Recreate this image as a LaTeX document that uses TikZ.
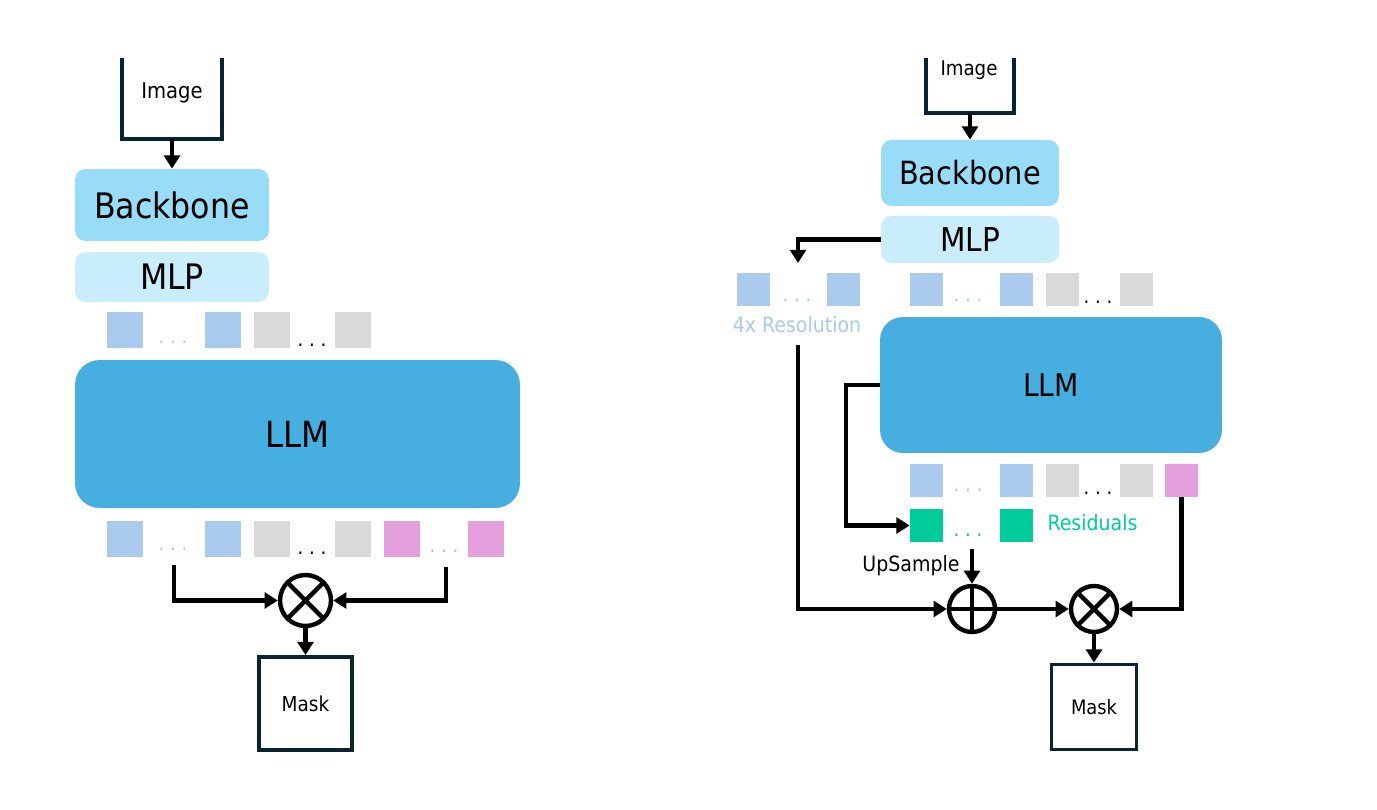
\documentclass[tikz,border=0pt]{standalone}
\usepackage{fontspec}
\setmainfont{DejaVu Sans Condensed}
\usetikzlibrary{arrows.meta}
\definecolor{bbfill}{HTML}{98DCF7}
\definecolor{mlpfill}{HTML}{CAEDFB}
\definecolor{llmfill}{HTML}{47AFDF}
\definecolor{tokblue}{HTML}{A9CAEC}
\definecolor{tokgray}{HTML}{D9D9D9}
\definecolor{tokpink}{HTML}{E3A0DC}
\definecolor{tokgreen}{HTML}{00CC99}
\definecolor{boxline}{HTML}{0A2330}
\tikzset{
  block/.style={inner sep=0pt, rounded corners=6pt},
  tok/.style={inner sep=0pt, minimum size=0.72cm},
  toks/.style={inner sep=0pt, minimum size=0.66cm},
  dotsl/.style={inner sep=0pt, anchor=base, font=\fontsize{11.5}{13}\selectfont},
  iobox/.style={draw=boxline, line width=2.2pt, inner sep=0pt},
  conn/.style={line width=2.5pt, -{Triangle[width=9pt,length=7.5pt]}},
  opnode/.style={draw, circle, line width=2.5pt, inner sep=0pt},
}
\begin{document}
\begin{tikzpicture}[x=0.02cm,y=-0.02cm]
 \useasboundingbox (0,0) rectangle (1377,810);
 % left: baseline
 \node[inner sep=0pt, minimum width=1.98cm, minimum height=1.62cm] (imgL) at (172,98.5) {};
 \draw[boxline, line width=2.2pt] (imgL.north west) -- (imgL.south west) -- (imgL.south east) -- (imgL.north east);
 \node[font=\fontsize{12.4}{14}\selectfont] (imgLtxt) at (172,93) {Image};
 \node[block, fill=bbfill, minimum width=3.88cm, minimum height=1.44cm, font=\fontsize{20}{24}\selectfont] (bbL) at (172,205) {Backbone};
 \node[block, fill=mlpfill, minimum width=3.88cm, minimum height=1.0cm, font=\fontsize{20}{24}\selectfont] (mlpL) at (172,277) {MLP};
 \node[tok, fill=tokblue] (tL1) at (125,330.5) {};
 \node[dotsl, text=tokblue] (dL1) at (173,344) {.\ .\ .};
 \node[tok, fill=tokblue] (tL2) at (223,330.5) {};
 \node[tok, fill=tokgray] (tL3) at (272,330.5) {};
 \node[dotsl] (dL2) at (312,347) {.\ .\ .};
 \node[tok, fill=tokgray] (tL4) at (353,330.5) {};
 \node[block, rounded corners=14pt, fill=llmfill, minimum width=8.9cm, minimum height=2.96cm, font=\fontsize{20.5}{24}\selectfont] (llmL) at (297.5,434) {LLM};
 \node[tok, fill=tokblue] (oL1) at (125,539) {};
 \node[dotsl, text=tokblue] (eL1) at (173,551) {.\ .\ .};
 \node[tok, fill=tokblue] (oL2) at (223,539) {};
 \node[tok, fill=tokgray] (oL3) at (272,539) {};
 \node[dotsl] (eL2) at (312,555) {.\ .\ .};
 \node[tok, fill=tokgray] (oL4) at (353,539) {};
 \node[tok, fill=tokpink] (oL5) at (402,539) {};
 \node[dotsl, text=tokpink] (eL3) at (444,553) {.\ .\ .};
 \node[tok, fill=tokpink] (oL6) at (486,539) {};
 \node[opnode, minimum size=1.02cm, path picture={
   \draw[line width=2.5pt] (path picture bounding box.north west) -- (path picture bounding box.south east)
     (path picture bounding box.north east) -- (path picture bounding box.south west);}] (otL) at (305.5,600.5) {};
 \node[iobox, minimum size=1.86cm, font=\fontsize{11.7}{14}\selectfont] (maskL) at (305.5,703.5) {Mask};
 \coordinate (cL1) at (174,565);
 \coordinate (cL2) at (446,567);
 \draw[conn] (imgL.south) -- (bbL.north);
 \draw[conn] (cL1) |- (otL.west);
 \draw[conn] (cL2) |- (otL.east);
 \draw[conn] (otL.south) -- (maskL.north);
 % right: with residuals
 \node[inner sep=0pt, minimum width=1.76cm, minimum height=1.1cm] (imgR) at (970,85.5) {};
 \draw[boxline, line width=2.2pt] (imgR.north west) -- (imgR.south west) -- (imgR.south east) -- (imgR.north east);
 \node[font=\fontsize{11.5}{14}\selectfont] (imgRtxt) at (969,70) {Image};
 \node[block, fill=bbfill, minimum width=3.56cm, minimum height=1.32cm, font=\fontsize{18.2}{22}\selectfont] (bbR) at (970,173) {Backbone};
 \node[block, fill=mlpfill, minimum width=3.56cm, minimum height=0.94cm, font=\fontsize{18.7}{22}\selectfont] (mlpR) at (970,239.5) {MLP};
 \node[toks, fill=tokblue] (hR1) at (753.5,289.5) {};
 \node[dotsl, text=tokblue] (hRd) at (797,302) {.\ .\ .};
 \node[toks, fill=tokblue] (hR2) at (843.5,289.5) {};
 \node[font=\fontsize{12}{14}\selectfont, text=tokblue] (res4x) at (797,325) {4x Resolution};
 \node[toks, fill=tokblue] (tR1) at (926.5,289.5) {};
 \node[dotsl, text=tokblue] (dR1) at (968,302) {.\ .\ .};
 \node[toks, fill=tokblue] (tR2) at (1016.5,289.5) {};
 \node[toks, fill=tokgray] (tR3) at (1062,289.5) {};
 \node[dotsl] (dR2) at (1098,304) {.\ .\ .};
 \node[toks, fill=tokgray] (tR4) at (1136.5,289.5) {};
 \node[block, rounded corners=13pt, fill=llmfill, minimum width=6.84cm, minimum height=2.72cm, font=\fontsize{17.8}{22}\selectfont] (llmR) at (1051,385) {LLM};
 \node[toks, fill=tokblue] (oR1) at (926.5,480.5) {};
 \node[dotsl, text=tokblue] (eR1) at (968,492) {.\ .\ .};
 \node[toks, fill=tokblue] (oR2) at (1016.5,480.5) {};
 \node[toks, fill=tokgray] (oR3) at (1062,480.5) {};
 \node[dotsl] (eR2) at (1098,495) {.\ .\ .};
 \node[toks, fill=tokgray] (oR4) at (1136.5,480.5) {};
 \node[toks, fill=tokpink] (pR) at (1181.5,480.5) {};
 \node[toks, fill=tokgreen] (gR1) at (926.5,525.5) {};
 \node[dotsl, text=tokgreen] (gRd) at (968,537) {.\ .\ .};
 \node[toks, fill=tokgreen] (gR2) at (1016.5,525.5) {};
 \node[font=\fontsize{12}{14}\selectfont, text=tokgreen] (resid) at (1092.5,523) {Residuals};
 \node[font=\fontsize{12}{14}\selectfont] (upsmp) at (911,566) {UpSample};
 \node[opnode, minimum size=0.92cm, path picture={
   \draw[line width=2.5pt] (path picture bounding box.north) -- (path picture bounding box.south)
     (path picture bounding box.west) -- (path picture bounding box.east);}] (opR) at (972,609) {};
 \node[opnode, minimum size=0.92cm, path picture={
   \draw[line width=2.5pt] (path picture bounding box.north west) -- (path picture bounding box.south east)
     (path picture bounding box.north east) -- (path picture bounding box.south west);}] (otR) at (1094,609) {};
 \node[iobox, minimum size=1.7cm, font=\fontsize{11.3}{14}\selectfont] (maskR) at (1094,707) {Mask};
 \coordinate (cR0) at (798,263);
 \coordinate (cR1) at (798,345);
 \coordinate (cR2) at (846,525.5);
 \coordinate (cR3) at (972,549);
 \draw[conn] (imgR.south) -- (bbR.north);
 \draw[conn] (mlpR.west) -| (cR0);
 \draw[conn] (cR1) |- (opR.west);
 \draw[conn] (llmR.west) -| (cR2) -- (gR1.west);
 \draw[conn] (cR3) -- (opR.north);
 \draw[conn] (opR.east) -- (otR.west);
 \draw[conn] (pR.south) |- (otR.east);
 \draw[conn] (otR.south) -- (maskR.north);
\end{tikzpicture}
\end{document}
